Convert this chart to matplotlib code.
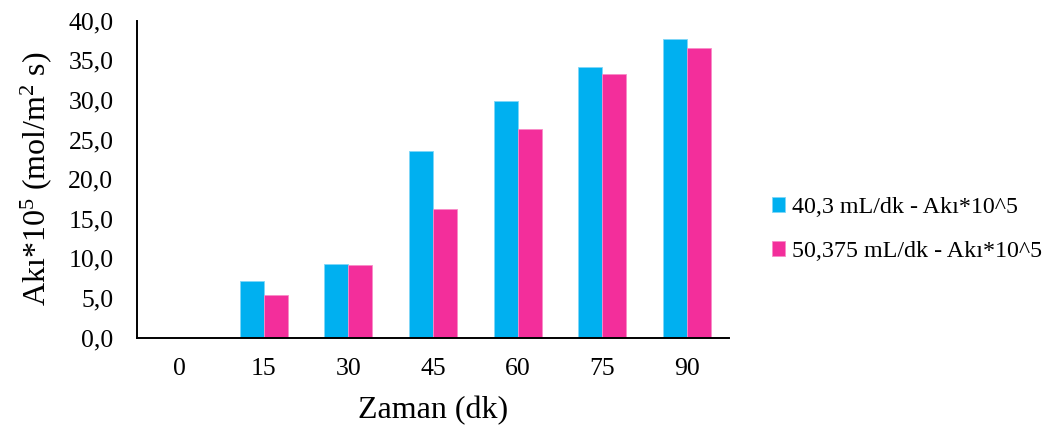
import numpy as np
import matplotlib
matplotlib.use("Agg")
import matplotlib.pyplot as plt

plt.rcParams['font.family'] = ['Liberation Serif', 'DejaVu Serif']
plt.rcParams['mathtext.fontset'] = 'custom'
plt.rcParams['mathtext.rm'] = 'Liberation Serif'
plt.rcParams['mathtext.it'] = 'Liberation Serif'

times = ['0', '15', '30', '45', '60', '75', '90']
flux_40 = [0.0, 7.1, 9.3, 23.6, 29.8, 34.2, 37.7]
flux_50 = [0.0, 5.4, 9.1, 16.2, 26.3, 33.3, 36.5]
series_labels = ['40,3 mL/dk - Akı*10^5', '50,375 mL/dk - Akı*10^5']
colors = ['#00B0F0', '#F32E9B']
edges = ['#7FD6F7', '#F98CC8']

fig = plt.figure(figsize=(10.46, 4.30), dpi=100)
ax = fig.add_axes([0.131, 0.215, 0.566, 0.737])

x = np.arange(len(times))
w = 0.284
ax.bar(x - w / 2, flux_40, w, color=colors[0], edgecolor=edges[0], linewidth=0.6,
       label=series_labels[0])
ax.bar(x + w / 2, flux_50, w, color=colors[1], edgecolor=edges[1], linewidth=0.6,
       label=series_labels[1])

ax.set_xlim(-0.5, len(times) - 0.5)
ax.set_ylim(0, 40)
ax.set_yticks(np.arange(0, 40.1, 5))
ax.set_yticklabels([f'{v:.1f}'.replace('.', ',') for v in np.arange(0, 40.1, 5)])
ax.set_xticks(x)
ax.set_xticklabels(times)
ax.tick_params(axis='both', length=0, labelsize=18.5, colors='#000000')
ax.tick_params(axis='y', pad=17)
ax.tick_params(axis='x', pad=15)

for s in ['top', 'right']:
    ax.spines[s].set_visible(False)
for s in ['left', 'bottom']:
    ax.spines[s].set_linewidth(1.4)
    ax.spines[s].set_color('#000000')

ax.set_xlabel('Zaman (dk)', fontsize=23, labelpad=11)
ax.set_ylabel('Akı*10$^{5}$ (mol/m$^{2}$ s)', fontsize=23, labelpad=10)

fig.legend(loc='center left', bbox_to_anchor=(0.738, 0.466), frameon=False,
           borderaxespad=0, borderpad=0,
           fontsize=17.3, handlelength=0.55, handleheight=0.55, handletextpad=0.3,
           labelspacing=0.95)

fig.savefig('out.png', dpi=100)
